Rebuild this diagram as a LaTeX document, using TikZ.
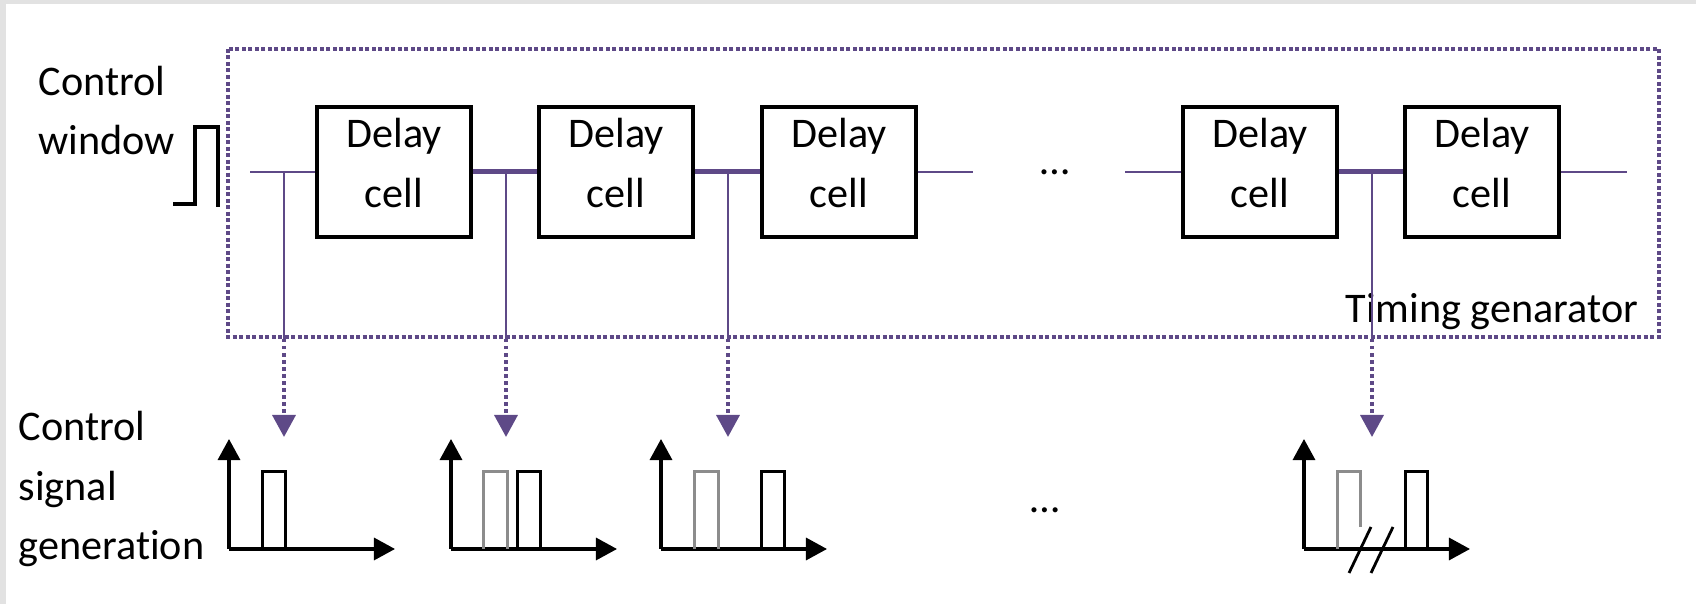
\documentclass[tikz,border=0pt]{standalone}
\usepackage{fontspec}
\setmainfont{Carlito}[Ligatures=NoCommon]
\usetikzlibrary{arrows.meta}
\definecolor{tgpurple}{RGB}{94,73,135}
\definecolor{oldgray}{RGB}{140,140,140}
\definecolor{slidegray}{RGB}{226,226,226}

\begin{document}
\begin{tikzpicture}
    [x=0.01cm,y=-0.01cm,
     every node/.style={font=\fontsize{12}{17}\selectfont},
     cell/.style={draw,line width=0.04cm,minimum width=1.53cm,minimum height=1.30cm,align=center,inner sep=0pt},
     wire/.style={tgpurple,line width=0.025cm},
     bus/.style={tgpurple,line width=0.05cm},
     tap/.style={tgpurple,line width=0.025cm},
     probe/.style={tgpurple,line width=0.035cm,dash pattern=on 0.035cm off 0.035cm,
                   -{Triangle[width=0.23cm,length=0.22cm]}},
     frame/.style={tgpurple,line width=0.045cm,dash pattern=on 0.04cm off 0.025cm},
     axis/.style={line width=0.032cm,-{Triangle[width=0.22cm,length=0.21cm]}},
     pulse/.style={line width=0.03cm},
     oldpulse/.style={oldgray,line width=0.03cm}]
    \useasboundingbox (0,0) rectangle (1696,604);
    \fill[slidegray] (0,0) rectangle (1696,4);
    \fill[slidegray] (0,0) rectangle (6,604);

    % timing generator
    \draw[frame] (228,49) rectangle (1659,337);
    \node[anchor=base west,inner sep=0pt] (tglabel) at (1345,323) {Timing genarator};

    \node[cell] (d1) at (394,172) {Delay\\cell\strut};
    \node[cell] (d2) at (616,172) {Delay\\cell\strut};
    \node[cell] (d3) at (839,172) {Delay\\cell\strut};
    \node[cell] (d4) at (1260,172) {Delay\\cell\strut};
    \node[cell] (d5) at (1482,172) {Delay\\cell\strut};
    \node[anchor=base,inner sep=0pt] (dotsa) at (1055,175) {…};

    \coordinate (in) at (250,172);
    \coordinate (gapa) at (973,172);
    \coordinate (gapb) at (1125,172);
    \coordinate (out) at (1627,172);
    \foreach \from/\to in {in/d1,d3/gapa,gapb/d4,d5/out}
        \draw[wire] (\from) -- (\to);
    \foreach \from/\to in {d1/d2,d2/d3,d4/d5}
        \draw[bus] (\from) -- (\to);

    % control window
    \node[anchor=base west,align=left,inner sep=0pt] (cw) at (38,155) {Control\\window};
    \draw[line width=0.035cm] (173,204) -- (195,204) -- (195,127) -- (218,127) -- (218,207);

    % taps
    \foreach \n/\x in {1/284,2/506,3/728,4/1372} {
        \coordinate (t\n) at (\x,172);
        \coordinate (b\n) at (\x,339);
        \coordinate (p\n) at (\x,437);
        \draw[tap] (t\n) -- (b\n);
        \draw[probe] (b\n) -- (p\n);
    }

    % control signals
    \node[anchor=base west,align=left,inner sep=0pt] (csg) at (18,560) {Control\\signal\\generation};
    \coordinate (o1) at (229,549);
    \coordinate (o2) at (451,549);
    \coordinate (o3) at (661,549);
    \coordinate (o4) at (1304,549);
    \foreach \o in {o1,o2,o3,o4} {
        \draw[axis] (\o) -- ++(0,-110);
        \draw[axis] (\o) -- ++(166,0);
    }
    \draw[pulse] (o1) ++(33,0) -- ++(0,-77) -- ++(23,0) -- ++(0,77);
    \draw[oldpulse] (o2) ++(32,0) -- ++(0,-77) -- ++(24,0) -- ++(0,77);
    \draw[pulse] (o2) ++(66,0) -- ++(0,-77) -- ++(23,0) -- ++(0,77);
    \draw[oldpulse] (o3) ++(33,0) -- ++(0,-77) -- ++(24,0) -- ++(0,77);
    \draw[pulse] (o3) ++(100,0) -- ++(0,-77) -- ++(23,0) -- ++(0,77);
    \draw[oldpulse] (o4) ++(33,0) -- ++(0,-77) -- ++(23,0) -- ++(0,55);
    \draw[pulse] (o4) ++(101,0) -- ++(0,-77) -- ++(22,0) -- ++(0,77);
    \draw[line width=0.028cm] (o4) ++(45,24) -- ++(22,-46);
    \draw[line width=0.028cm] (o4) ++(67,24) -- ++(22,-46);
    \node[anchor=base,inner sep=0pt] (dotsb) at (1045,513) {…};
\end{tikzpicture}
\end{document}
